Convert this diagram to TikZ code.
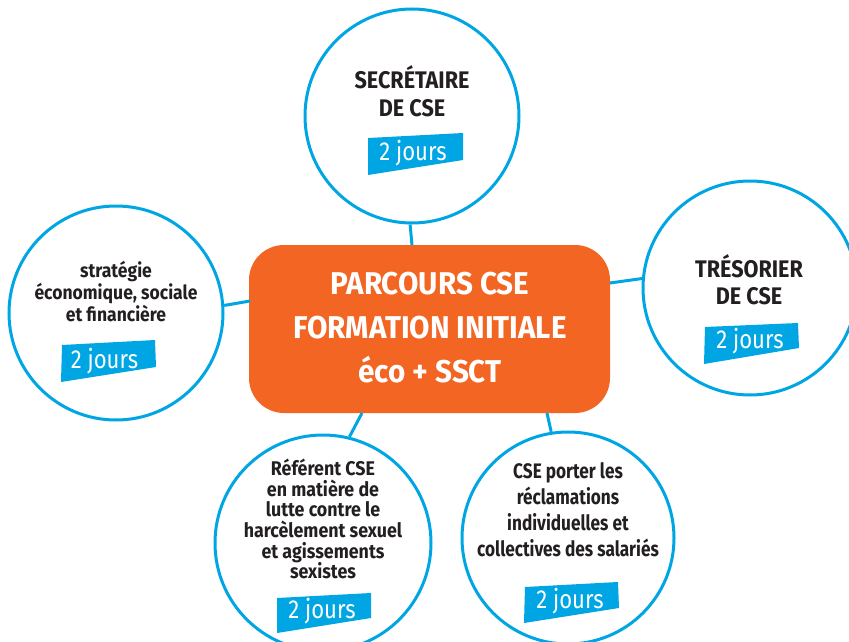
\documentclass[tikz,border=0pt]{standalone}
\usepackage{fontspec}
\setmainfont{Fira Sans}[FakeStretch=0.9]
\newfontfamily\fnarrow{Fira Sans}[FakeStretch=0.82]
\newfontfamily\fwide{Fira Sans}[FakeStretch=0.94]
\newfontfamily\tagfont{Fira Sans}[FakeStretch=0.85]
\definecolor{cblue}{HTML}{00A6E3}
\definecolor{corange}{HTML}{F26522}
\definecolor{ctext}{HTML}{231F20}
\tikzset{
  topic/.style={circle, draw=cblue, line width=3pt, minimum size=214pt, inner sep=0pt, fill=white},
  conn/.style={draw=cblue, line width=3pt},
  tagbox/.style={fill=cblue},
  tagtext/.style={text=white, font=\tagfont\fontsize{26}{26}\selectfont, anchor=base, inner sep=0pt},
  ttext/.style={text=ctext, align=center, inner sep=0pt, font=\bfseries},
}
\begin{document}
\begin{tikzpicture}[x=1pt,y=-1pt]
\useasboundingbox (0,0) rectangle (849,642);
\clip (0,0) rectangle (849,642);
% central box
\node[fill=corange, rounded corners=35pt, minimum width=361pt, minimum height=168pt, inner sep=0pt] (main) at (429.5,329) {};
% circles
\node[topic] (ctop) at (412,116) {};
\node[topic] (cleft) at (116,313) {};
\node[topic] (cright) at (750,288) {};
\node[topic, minimum size=216pt] (cbl) at (323,543) {};
\node[topic, minimum size=212pt] (cbr) at (568,538) {};
% connector ends on the box
\coordinate (mtop) at (412,245);
\coordinate (mleft) at (250,301);
\coordinate (mright) at (610,283);
\coordinate (mbl) at (362,413);
\coordinate (mbr) at (547,413);
\draw[conn] (ctop.269) -- (mtop);
\draw[conn] (cleft.4) -- (mleft);
\draw[conn] (cright.175) -- (mright);
\draw[conn] (cbl.76) -- (mbl);
\draw[conn] (cbr.99) -- (mbr);
% main text
\node[ttext, text=white, font=\fwide\bfseries\fontsize{31.5}{44}\selectfont] (maintxt) at (430,328) {PARCOURS CSE\\FORMATION INITIALE\\éco + SSCT};
% circle texts
\node[ttext, font=\bfseries\fontsize{24}{28}\selectfont] (ttop) at (412,91) {SECRÉTAIRE\\DE CSE};
\node[ttext, font=\bfseries\fontsize{19.5}{20.5}\selectfont] (tleft) at (116,291.5) {stratégie\\économique, sociale\\et financière};
\node[ttext, font=\bfseries\fontsize{24}{27}\selectfont] (tright) at (749,280) {TRÉSORIER\\DE CSE};
\node[ttext, font=\bfseries\fontsize{19.8}{20.6}\selectfont] (tbl) at (323,519) {Référent CSE\\en matière de\\lutte contre le\\harcèlement sexuel\\et agissements\\sexistes};
\node[ttext, font=\fnarrow\bfseries\fontsize{21}{26}\selectfont] (tbr) at (568,510) {CSE porter les\\réclamations\\individuelles et\\collectives des salariés};
% tags
\fill[tagbox] (368,138) -- (463,133) -- (463,160) -- (368,175) -- cycle;
\node[tagtext] (gtop) at (413,160) {2 jours};
\fill[tagbox] (62,345) -- (155,340) -- (156,367) -- (61,382) -- cycle;
\node[tagtext] (gleft) at (104.5,368) {2 jours};
\fill[tagbox] (705,327) -- (798,323) -- (799,348) -- (704,364) -- cycle;
\node[tagtext] (gright) at (750,348) {2 jours};
\fill[tagbox] (277,598) -- (371,593) -- (371,618) -- (277,633) -- cycle;
\node[tagtext] (gbl) at (322,618) {2 jours};
\fill[tagbox] (525,587) -- (618,582) -- (619,608) -- (524,623) -- cycle;
\node[tagtext] (gbr) at (570,608) {2 jours};
\end{tikzpicture}
\end{document}
